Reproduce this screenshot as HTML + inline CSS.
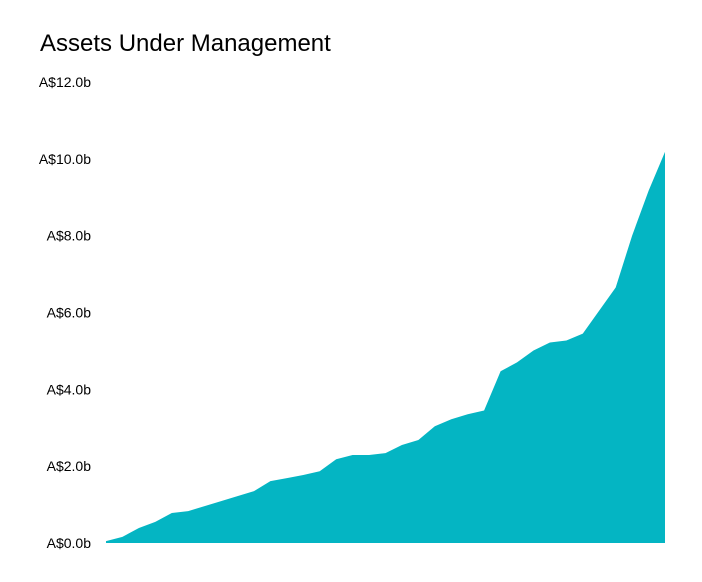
<!DOCTYPE html>
<html><head><meta charset="utf-8"><style>
html,body{margin:0;padding:0;background:#fff;}
svg{display:block;font-family:"Liberation Sans",sans-serif;}
</style></head><body>
<svg width="702" height="582" viewBox="0 0 702 582">
<rect width="702" height="582" fill="#fff"/>
<text x="40" y="51" font-size="24" fill="#000">Assets Under Management</text>
<g id="yaxis"></g>
<path id="area" fill="#04B5C3"/>
</svg>
<script>
const values = [0.05,0.16,0.39,0.55,0.78,0.83,0.96,1.09,1.22,1.35,1.61,1.69,1.77,1.87,2.18,2.29,2.29,2.34,2.55,2.68,3.04,3.22,3.35,3.45,4.47,4.70,5.01,5.22,5.27,5.45,6.05,6.65,8.00,9.17,10.18];
const tickValues = [0,2,4,6,8,10,12];
const tickLabels = ["A$0.0b","A$2.0b","A$4.0b","A$6.0b","A$8.0b","A$10.0b","A$12.0b"];
const X0=106, X1=665, Y0=543, Y12=82;
function xs(i){return X0+(X1-X0)*i/(values.length-1);}
function ys(v){return Y0-(Y0-Y12)*v/12;}
const ns="http://www.w3.org/2000/svg";
const g=document.getElementById('yaxis');
tickValues.forEach((v,i)=>{
  const t=document.createElementNS(ns,'text');
  
  
  t.setAttribute('x',91);t.setAttribute('y',ys(v)+5);
  t.setAttribute('text-anchor','end');t.setAttribute('font-size','14');
  t.textContent=tickLabels[i];g.appendChild(t);
});
let d='M'+xs(0)+','+Y0;
values.forEach((v,i)=>{d+=' L'+xs(i).toFixed(1)+','+ys(v).toFixed(1);});
d+=' L'+xs(values.length-1)+','+Y0+' Z';
document.getElementById('area').setAttribute('d',d);
</script>
</body></html>
